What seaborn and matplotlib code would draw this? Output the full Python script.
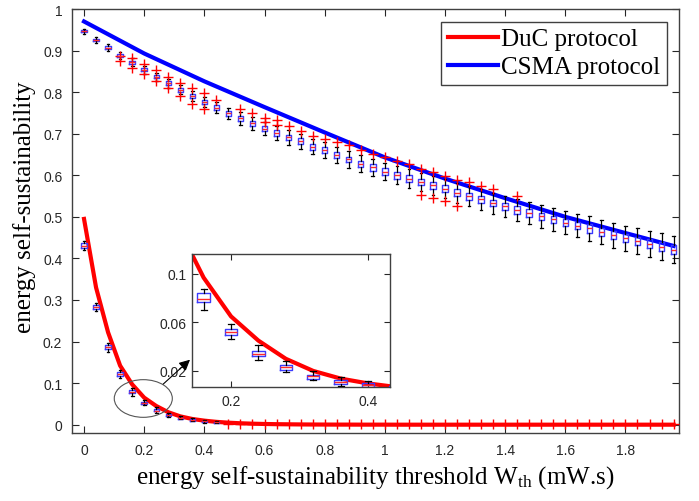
import numpy as np
import pandas as pd
import matplotlib
matplotlib.use("Agg")
import matplotlib.pyplot as plt
import seaborn as sns
from matplotlib.patches import Ellipse

# ---------------- data ----------------
x_pos = [0.00, 0.04, 0.08, 0.12, 0.16, 0.20, 0.24, 0.28, 0.32, 0.36,
         0.40, 0.44, 0.48, 0.52, 0.56, 0.60, 0.64, 0.68, 0.72, 0.76,
         0.80, 0.84, 0.88, 0.92, 0.96, 1.00, 1.04, 1.08, 1.12, 1.16,
         1.20, 1.24, 1.28, 1.32, 1.36, 1.40, 1.44, 1.48, 1.52, 1.56,
         1.60, 1.64, 1.68, 1.72, 1.76, 1.80, 1.84, 1.88, 1.92, 1.96]

# DuC protocol (analytical, red line)
duc_y = [0.495, 0.330, 0.222, 0.142, 0.097, 0.065, 0.045, 0.030, 0.020, 0.0137,
         0.0097, 0.0068, 0.0048, 0.0034, 0.0024, 0.0017, 0.0012, 0.0009, 0.0006, 0.0004,
         0.0003, 0.0002, 0.0002, 0.0001, 0.0001, 0.0001, 0.0, 0.0, 0.0, 0.0,
         0.0, 0.0, 0.0, 0.0, 0.0, 0.0, 0.0, 0.0, 0.0, 0.0,
         0.0, 0.0, 0.0, 0.0, 0.0, 0.0, 0.0, 0.0, 0.0, 0.0]

# CSMA protocol (analytical, blue line)
csma_x = [0.0, 0.2, 0.4, 0.6, 0.8, 1.0, 1.2, 1.4, 1.6, 1.8, 1.96]
csma_y = [0.970, 0.893, 0.826, 0.764, 0.703, 0.643, 0.592, 0.545, 0.500, 0.461, 0.430]

# CSMA simulation box plots
csma_med = [0.947, 0.926, 0.907, 0.888, 0.872, 0.854, 0.837, 0.821, 0.806, 0.790,
            0.777, 0.763, 0.749, 0.737, 0.725, 0.712, 0.702, 0.691, 0.682, 0.669,
            0.660, 0.649, 0.638, 0.628, 0.619, 0.609, 0.600, 0.592, 0.584, 0.576,
            0.568, 0.558, 0.549, 0.542, 0.533, 0.525, 0.517, 0.509, 0.501, 0.494,
            0.486, 0.479, 0.472, 0.464, 0.456, 0.449, 0.442, 0.435, 0.428, 0.421]
csma_box_half = [0.003, 0.003, 0.003, 0.004, 0.004, 0.004, 0.004, 0.005, 0.005, 0.005,
                 0.005, 0.006, 0.006, 0.006, 0.006, 0.006, 0.007, 0.007, 0.007, 0.007,
                 0.007, 0.007, 0.007, 0.007, 0.008, 0.008, 0.008, 0.008, 0.008, 0.008,
                 0.008, 0.008, 0.008, 0.008, 0.008, 0.009, 0.009, 0.009, 0.009, 0.009,
                 0.009, 0.009, 0.010, 0.010, 0.010, 0.010, 0.010, 0.011, 0.011, 0.011]
csma_whisk_half = [0.006, 0.007, 0.008, 0.009, 0.009, 0.010, 0.010, 0.011, 0.011, 0.012,
                   0.012, 0.013, 0.014, 0.015, 0.016, 0.016, 0.017, 0.018, 0.018, 0.019,
                   0.019, 0.020, 0.020, 0.021, 0.021, 0.021, 0.022, 0.022, 0.022, 0.023,
                   0.023, 0.024, 0.024, 0.025, 0.025, 0.026, 0.026, 0.027, 0.027, 0.028,
                   0.028, 0.028, 0.029, 0.029, 0.030, 0.030, 0.031, 0.031, 0.032, 0.032]
csma_outliers = {3: [0.886, 0.875], 4: [0.881, 0.859], 5: [0.867, 0.843],
                 6: [0.853, 0.827], 7: [0.837, 0.809], 8: [0.822, 0.790],
                 9: [0.811, 0.772], 10: [0.797, 0.760], 11: [0.782],
                 13: [0.760], 14: [0.749], 15: [0.738, 0.729], 16: [0.732, 0.722],
                 17: [0.719], 18: [0.707], 19: [0.695], 20: [0.688], 21: [0.681],
                 22: [0.672], 23: [0.662], 24: [0.652], 25: [0.644], 26: [0.634],
                 27: [0.628], 28: [0.616, 0.553], 29: [0.607, 0.545],
                 30: [0.598, 0.538], 31: [0.589, 0.526], 32: [0.584], 33: [0.574],
                 34: [0.566], 36: [0.549]}

# DuC simulation box plots (first 12 thresholds)
duc_med = [0.431, 0.283, 0.186, 0.122, 0.0794, 0.0524, 0.0340, 0.0233, 0.0156, 0.0111, 0.0084, 0.0060]
duc_q1 = [0.426, 0.278, 0.181, 0.118, 0.0771, 0.0497, 0.0321, 0.0208, 0.0137, 0.0092, 0.0065, 0.0045]
duc_q3 = [0.436, 0.288, 0.191, 0.126, 0.0840, 0.0546, 0.0367, 0.0252, 0.0169, 0.0128, 0.0098, 0.0072]
duc_lo = [0.421, 0.273, 0.176, 0.112, 0.0700, 0.0464, 0.0291, 0.0190, 0.0128, 0.0078, 0.0050, 0.0035]
duc_hi = [0.441, 0.293, 0.196, 0.132, 0.0876, 0.0587, 0.0414, 0.0285, 0.0200, 0.0153, 0.0115, 0.0085]
duc_out_x = x_pos[12:]
duc_out_y = [0.002] * 38

xticks = [0, 0.2, 0.4, 0.6, 0.8, 1.0, 1.2, 1.4, 1.6, 1.8]
xtick_labels = ["0", "0.2", "0.4", "0.6", "0.8", "1", "1.2", "1.4", "1.6", "1.8"]
yticks = [0, 0.1, 0.2, 0.3, 0.4, 0.5, 0.6, 0.7, 0.8, 0.9, 1.0]
ytick_labels = ["0", "0.1", "0.2", "0.3", "0.4", "0.5", "0.6", "0.7", "0.8", "0.9", "1"]

# ---------------- style ----------------
plt.rcParams["font.family"] = ["Liberation Sans", "DejaVu Sans"]
plt.rcParams["mathtext.fontset"] = "custom"
plt.rcParams["mathtext.rm"] = "Liberation Serif"
plt.rcParams["mathtext.it"] = "Liberation Serif:italic"
SERIF = ["Liberation Serif", "DejaVu Serif"]
TICKC = "#262626"

fig = plt.figure(figsize=(6.99, 5.02), dpi=100)
ax = fig.add_axes([72 / 699, 1 - 434 / 502, 607 / 699, 424 / 502])

df = pd.concat([
    pd.DataFrame({"x": x_pos, "y": duc_y, "protocol": "DuC protocol"}),
    pd.DataFrame({"x": csma_x, "y": csma_y, "protocol": "CSMA protocol"}),
], ignore_index=True)
pal = {"DuC protocol": "#ff0000", "CSMA protocol": "#0000ff"}

sns.lineplot(data=df, x="x", y="y", hue="protocol", palette=pal,
             hue_order=["DuC protocol", "CSMA protocol"], estimator=None,
             sort=False, linewidth=3, ax=ax, zorder=2)

boxprops = dict(color="#3a3aff", linewidth=1.0)
medprops = dict(color="#ff2a2a", linewidth=1.0)
whiskprops = dict(color="black", linewidth=0.9)
capprops = dict(color="black", linewidth=0.9)
flierprops = dict(marker="+", markeredgecolor="#ff0000", markersize=7.5,
                  markeredgewidth=1.0, linestyle="none")


def csma_stats():
    out = []
    for k in range(len(x_pos)):
        m = csma_med[k]
        out.append(dict(med=m, q1=m - csma_box_half[k], q3=m + csma_box_half[k],
                        whislo=m - csma_whisk_half[k], whishi=m + csma_whisk_half[k],
                        fliers=np.array(csma_outliers.get(k, []))))
    return out


def duc_stats():
    return [dict(med=duc_med[k], q1=duc_q1[k], q3=duc_q3[k], whislo=duc_lo[k],
                 whishi=duc_hi[k], fliers=np.array([])) for k in range(len(duc_med))]


def draw_boxes(a):
    a.bxp(csma_stats(), positions=x_pos, widths=0.018, capwidths=0.009,
          boxprops=boxprops, medianprops=medprops, whiskerprops=whiskprops,
          capprops=capprops, flierprops=flierprops, manage_ticks=False, zorder=3)
    a.bxp(duc_stats(), positions=x_pos[:len(duc_med)], widths=0.018, capwidths=0.009,
          boxprops=boxprops, medianprops=medprops, whiskerprops=whiskprops,
          capprops=capprops, flierprops=flierprops, manage_ticks=False, zorder=3)


draw_boxes(ax)
ax.plot(duc_out_x, duc_out_y, linestyle="none", marker="+", markeredgecolor="#ff0000",
        markersize=7.5, markeredgewidth=1.0, zorder=3)

ax.set_xlim(-0.04, 1.978)
ax.set_ylim(-0.02, 1.0)
ax.set_xticks(xticks)
ax.set_xticklabels(xtick_labels)
ax.set_yticks(yticks)
ax.set_yticklabels(ytick_labels)
ax.tick_params(direction="in", top=True, right=True, length=5, width=0.8,
               labelsize=10, colors=TICKC, labelcolor=TICKC)
ax.tick_params(axis="x", pad=7)
ax.tick_params(axis="y", pad=7)
for s in ax.spines.values():
    s.set_color("#404040")
    s.set_linewidth(1.0)

ax.set_xlabel(r"energy self-sustainability threshold W$_{\rm th}$ (mW.s)",
              fontsize=18, family=SERIF, color="black")
ax.set_ylabel("energy self-sustainability", fontsize=18, family=SERIF, color="black")
ax.xaxis.set_label_coords(0.5, -0.072)
ax.yaxis.set_label_coords(-0.060, 0.534)

h, l = ax.get_legend_handles_labels()
leg = ax.legend(h, l, loc="upper right", bbox_to_anchor=(0.980, 0.970),
                borderaxespad=0, prop={"family": SERIF, "size": 18},
                handlelength=2.0, handletextpad=0.15, borderpad=0.25,
                labelspacing=0.22, fancybox=False, framealpha=1,
                edgecolor="#404040")
leg.get_frame().set_linewidth(1.0)
for line in leg.get_lines():
    line.set_linewidth(3)

ax.add_patch(Ellipse((0.197, 0.063), 0.193, 0.0906, fill=False,
                     edgecolor="#555555", linewidth=0.8, zorder=4))

# ---------------- inset ----------------
axin = fig.add_axes([191.7 / 699, 1 - 387.7 / 502, 198.3 / 699, 132.7 / 502])
sns.lineplot(x=x_pos, y=duc_y, color="#ff0000", linewidth=3, estimator=None,
             sort=False, ax=axin, zorder=2, legend=False)
axin.bxp(duc_stats(), positions=x_pos[:len(duc_med)], widths=0.018, capwidths=0.009,
         boxprops=boxprops, medianprops=medprops, whiskerprops=whiskprops,
         capprops=capprops, flierprops=flierprops, manage_ticks=False, zorder=3)
axin.set_xlim(0.1426, 0.432)
axin.set_ylim(0.007, 0.1165)
axin.set_xticks([0.2, 0.4])
axin.set_xticklabels(["0.2", "0.4"])
axin.set_yticks([0.02, 0.06, 0.1])
axin.set_yticklabels(["0.02", "0.06", "0.1"])
axin.set_xlabel("")
axin.set_ylabel("")
axin.tick_params(direction="in", top=True, right=True, length=4, width=0.8,
                 labelsize=10, colors=TICKC, labelcolor=TICKC)
axin.tick_params(axis="x", pad=5)
axin.tick_params(axis="y", pad=4)
for s in axin.spines.values():
    s.set_color("#404040")
    s.set_linewidth(1.0)

axin.annotate("", xy=(190.0, 502 - 360.7), xycoords="figure pixels",
              xytext=(163.3, 502 - 385.0), textcoords="figure pixels",
              arrowprops=dict(arrowstyle="-|>", color="black", lw=0.8,
                              mutation_scale=16, shrinkA=0, shrinkB=0),
              annotation_clip=False)

fig.savefig("out.png", dpi=100)
